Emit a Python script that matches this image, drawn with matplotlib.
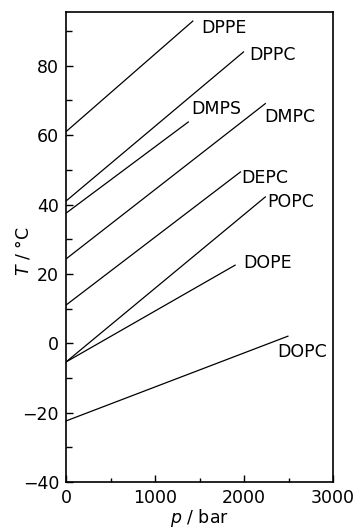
import matplotlib
matplotlib.use('Agg')
import matplotlib.pyplot as plt
from matplotlib.ticker import MultipleLocator

# lipid main transition lines: T(p) from p=0 to the end pressure
lipids = ['DPPE', 'DPPC', 'DMPS', 'DMPC', 'DEPC', 'POPC', 'DOPE', 'DOPC']
t_start = [61.0, 41.0, 37.5, 24.3, 11.0, -5.4, -5.4, -22.4]
p_end = [1430, 2000, 1380, 2245, 1966, 2245, 1906, 2500]
t_end = [93.0, 84.1, 63.9, 69.2, 49.5, 42.3, 22.6, 2.1]

# label anchors (left edge, vertical centre)
label_p = [1524, 2055, 1412, 2230, 1973, 2263, 1996, 2375]
label_t = [91.0, 83.2, 67.6, 65.3, 47.7, 40.8, 23.2, -2.5]

plt.rcParams['font.family'] = ['DejaVu Sans']
plt.rcParams['font.size'] = 12.5

fig = plt.figure(figsize=(3.64, 5.29), dpi=100)
ax = fig.add_axes([66 / 364, 1 - 482 / 529, (333 - 66) / 364, (482 - 12) / 529])

for i, name in enumerate(lipids):
    ax.plot([0, p_end[i]], [t_start[i], t_end[i]], color='black', lw=0.9,
            solid_capstyle='butt')
    ax.text(label_p[i], label_t[i], name, ha='left', va='center', fontsize=12.5)

ax.set_xlim(0, 3000)
ax.set_ylim(-40, 95.5)
ax.xaxis.set_major_locator(MultipleLocator(1000))
ax.xaxis.set_minor_locator(MultipleLocator(500))
ax.yaxis.set_major_locator(MultipleLocator(20))
ax.yaxis.set_minor_locator(MultipleLocator(10))
ax.tick_params(which='major', direction='in', length=5, width=1.0, pad=5)
ax.tick_params(which='minor', direction='in', length=4, width=1.0)
ax.tick_params(axis='x', which='minor', length=3)
for s in ax.spines.values():
    s.set_linewidth(1.2)

ax.set_xlabel('$p$ / bar', labelpad=0)
ax.set_ylabel('$T$ / °C')
# the axis title sits between the 20 and 40 tick labels
ax.yaxis.set_label_coords(-0.125, 0.49)

fig.savefig('out.png', dpi=100)
